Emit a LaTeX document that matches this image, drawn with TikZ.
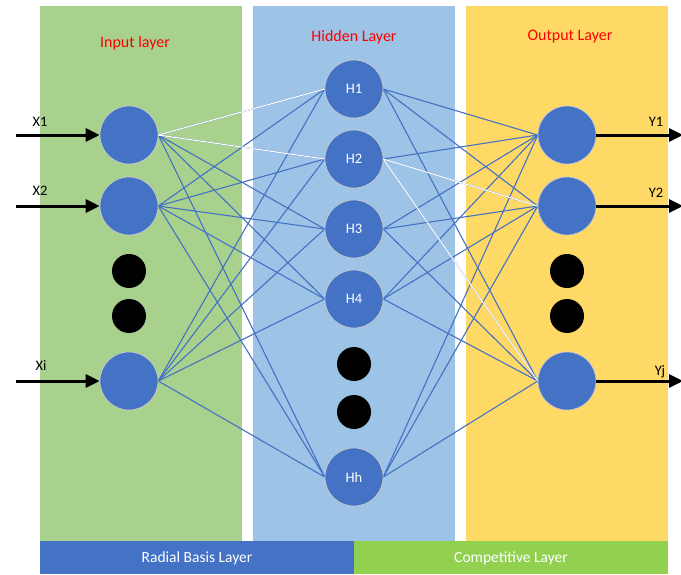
\documentclass[tikz,border=0pt]{standalone}
\usepackage{fontspec}
\setmainfont{Carlito}
\usetikzlibrary{arrows.meta}
\definecolor{pgreen}{HTML}{A9D18E}
\definecolor{pblue}{HTML}{9DC3E6}
\definecolor{pyellow}{HTML}{FFD966}
\definecolor{nblue}{HTML}{4472C4}
\definecolor{bgreen}{HTML}{92D050}
\definecolor{ttlred}{HTML}{FF0000}
\tikzset{
  neuron/.style={circle, fill=nblue, draw=gray!40, line width=0.6pt, minimum size=58pt, inner sep=0pt, text=white, font=\fontsize{14.5}{16}\selectfont},
  dotnode/.style={circle, fill=black, minimum size=34pt, inner sep=0pt},
  conn/.style={draw=nblue, line width=1.1pt},
  wconn/.style={draw=white, line width=1.1pt},
  ioarrow/.style={line width=3pt, -{Triangle[length=14pt,width=13pt]}},
  iolabel/.style={font=\fontsize{14.5}{16}\selectfont, text=black},
  title/.style={font=\fontsize{16}{18}\selectfont, text=ttlred},
  barlabel/.style={font=\fontsize{15.5}{18}\selectfont, text=white},
}
\begin{document}
\begin{tikzpicture}[x=1pt,y=-1pt]
\useasboundingbox (0,0) rectangle (681,574);
\fill[white] (0,0) rectangle (681,574);
% panels
\fill[pgreen] (40,6) rectangle (242,541);
\fill[pblue] (253,6) rectangle (455,541);
\fill[pyellow] (466,6) rectangle (668,541);
\fill[nblue] (40,541) rectangle (354,574);
\fill[bgreen] (354,541) rectangle (668,574);
\node[barlabel] (rbl) at (197,558) {Radial Basis Layer};
\node[barlabel] (cl) at (511,558) {Competitive Layer};
% titles
\node[title] (tin) at (135,43) {Input layer};
\node[title] (thid) at (354,37) {Hidden Layer};
\node[title] (tout) at (570,37) {Output Layer};
% input nodes
\node[neuron] (x1) at (129,135) {};
\node[neuron] (x2) at (129,206) {};
\node[neuron] (xi) at (129,381) {};
\node[dotnode] (xd1) at (129,271) {};
\node[dotnode] (xd2) at (129,316) {};
% hidden nodes
\node[neuron] (h1) at (354,89) {H1};
\node[neuron] (h2) at (354,159) {H2};
\node[neuron] (h3) at (354,229) {H3};
\node[neuron] (h4) at (354,299) {H4};
\node[neuron] (hh) at (354,477) {Hh};
\node[dotnode] (hd1) at (354,364) {};
\node[dotnode] (hd2) at (354,412) {};
% output nodes
\node[neuron] (y1) at (567,135) {};
\node[neuron] (y2) at (567,206) {};
\node[neuron] (yj) at (567,381) {};
\node[dotnode] (yd1) at (567,271) {};
\node[dotnode] (yd2) at (567,316) {};
% connections
\foreach \i in {x1,x2,xi}{
  \foreach \h in {h1,h2,h3,h4,hh}{
    \path[conn] (\i.east) -- (\h.west);
  }
}
\foreach \h in {h1,h2,h3,h4,hh}{
  \foreach \o in {y1,y2,yj}{
    \path[conn] (\h.east) -- (\o.west);
  }
}
\path[wconn] (x1.east) -- (h1.west);
\path[wconn] (x1.east) -- (h2.west);
\path[wconn] (h2.east) -- (y2.west);
\path[wconn] (h2.east) -- (yj.west);
% redraw nodes on top of the connectors
\foreach \n/\t in {x1/,x2/,xi/,h1/H1,h2/H2,h3/H3,h4/H4,hh/Hh,y1/,y2/,yj/}{
  \node[neuron] at (\n) {\t};
}
% io arrows
\coordinate (ax1) at (16,135);
\coordinate (ax2) at (16,206);
\coordinate (axi) at (16,381);
\coordinate (ay1) at (683,135);
\coordinate (ay2) at (683,206);
\coordinate (ayj) at (683,381);
\draw[ioarrow] (ax1) -- (x1.west);
\draw[ioarrow] (ax2) -- (x2.west);
\draw[ioarrow] (axi) -- (xi.west);
\draw[ioarrow] (y1.east) -- (ay1);
\draw[ioarrow] (y2.east) -- (ay2);
\draw[ioarrow] (yj.east) -- (ayj);
\node[iolabel] (lx1) at (40,122) {X1};
\node[iolabel] (lx2) at (40,191) {X2};
\node[iolabel] (lxi) at (41,366) {Xi};
\node[iolabel] (ly1) at (656,122) {Y1};
\node[iolabel] (ly2) at (656,193) {Y2};
\node[iolabel] (lyj) at (660,372) {Yj};
\end{tikzpicture}
\end{document}
